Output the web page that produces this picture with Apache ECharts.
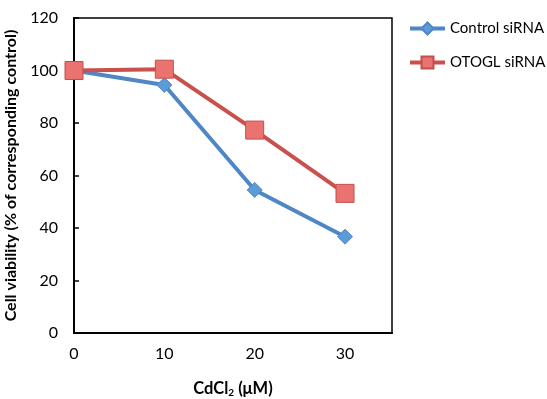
<!DOCTYPE html>
<html><head><meta charset="utf-8">
<script src="https://cdn.jsdelivr.net/npm/echarts@6/dist/echarts.min.js"></script>
<style>html,body{margin:0;padding:0;background:#fff}#c{width:547px;height:399px}</style>
</head><body><div id="c"></div>
<script>
const xValues = [0, 10, 20, 30];
const controlSiRNA = [100, 94.5, 54.5, 36.7];
const otoglSiRNA = [100, 100.5, 77.3, 53.2];
const seriesNames = ['Control siRNA', 'OTOGL siRNA'];
const yTicks = [0, 20, 40, 60, 80, 100, 120];

const FONT = 'Lato';
const chart = echarts.init(document.getElementById('c'));
chart.setOption({
  animation: false,
  textStyle: { fontFamily: FONT },
  grid: { left: 74, top: 18, right: 155, bottom: 66, show: true, borderColor: '#000', borderWidth: 1.5,
    backgroundColor: 'transparent', containLabel: false, outerBoundsMode: 'none' },
  legend: {
    orient: 'vertical', left: 408, top: 21, itemGap: 19, padding: 0,
    itemWidth: 35, itemHeight: 15,
    lineStyle: { width: 4 },
    textStyle: { fontSize: 15, color: '#000', fontFamily: FONT },
    data: seriesNames
  },
  xAxis: {
    type: 'value', min: 0, max: 35.2, interval: 10,
    axisLine: { show: true, lineStyle: { color: '#000', width: 2 } },
    axisTick: { show: false },
    splitLine: { show: false },
    axisLabel: { fontSize: 16, color: '#000', margin: 13, showMaxLabel: false,
      formatter: v => (v % 10 === 0 ? String(v) : '') },
    name: '{b|CdCl}{s|2}{b| (μM)}', nameLocation: 'middle', nameGap: 46,
    nameTextStyle: { rich: {
      b: { fontSize: 16.5, fontWeight: 'bold', color: '#000', fontFamily: FONT },
      s: { fontSize: 10, fontWeight: 'bold', color: '#000', fontFamily: FONT, verticalAlign: 'bottom', padding: [9, 0, 0, 0] }
    } }
  },
  yAxis: {
    type: 'value', min: 0, max: 120, interval: 20,
    axisLine: { show: true, lineStyle: { color: '#000', width: 2 } },
    axisTick: { show: true, inside: true, length: 5, lineStyle: { color: '#000', width: 1.5 } },
    splitLine: { show: false },
    axisLabel: { fontSize: 16, color: '#000', margin: 16, formatter: v => (yTicks.includes(v) ? String(v) : '') },
    name: 'Cell viability (% of corresponding control)', nameLocation: 'middle', nameGap: 49,
    nameTextStyle: { fontSize: 16, fontWeight: 'bold', color: '#000', fontFamily: FONT }
  },
  series: [
    {
      name: seriesNames[0], type: 'line', z: 2,
      data: xValues.map((x, i) => [x, controlSiRNA[i]]),
      symbol: 'diamond', symbolSize: 15,
      lineStyle: { color: '#4F86C6', width: 4 },
      itemStyle: { color: '#5D9AD8', borderColor: '#4F86C6', borderWidth: 1 }
    },
    {
      name: seriesNames[1], type: 'line', z: 3,
      data: xValues.map((x, i) => [x, otoglSiRNA[i]]),
      symbol: 'rect', symbolSize: 18,
      lineStyle: { color: '#C9504D', width: 4 },
      itemStyle: { color: '#EA7370', borderColor: '#C0504D', borderWidth: 1 }
    }
  ]
});
</script></body></html>
